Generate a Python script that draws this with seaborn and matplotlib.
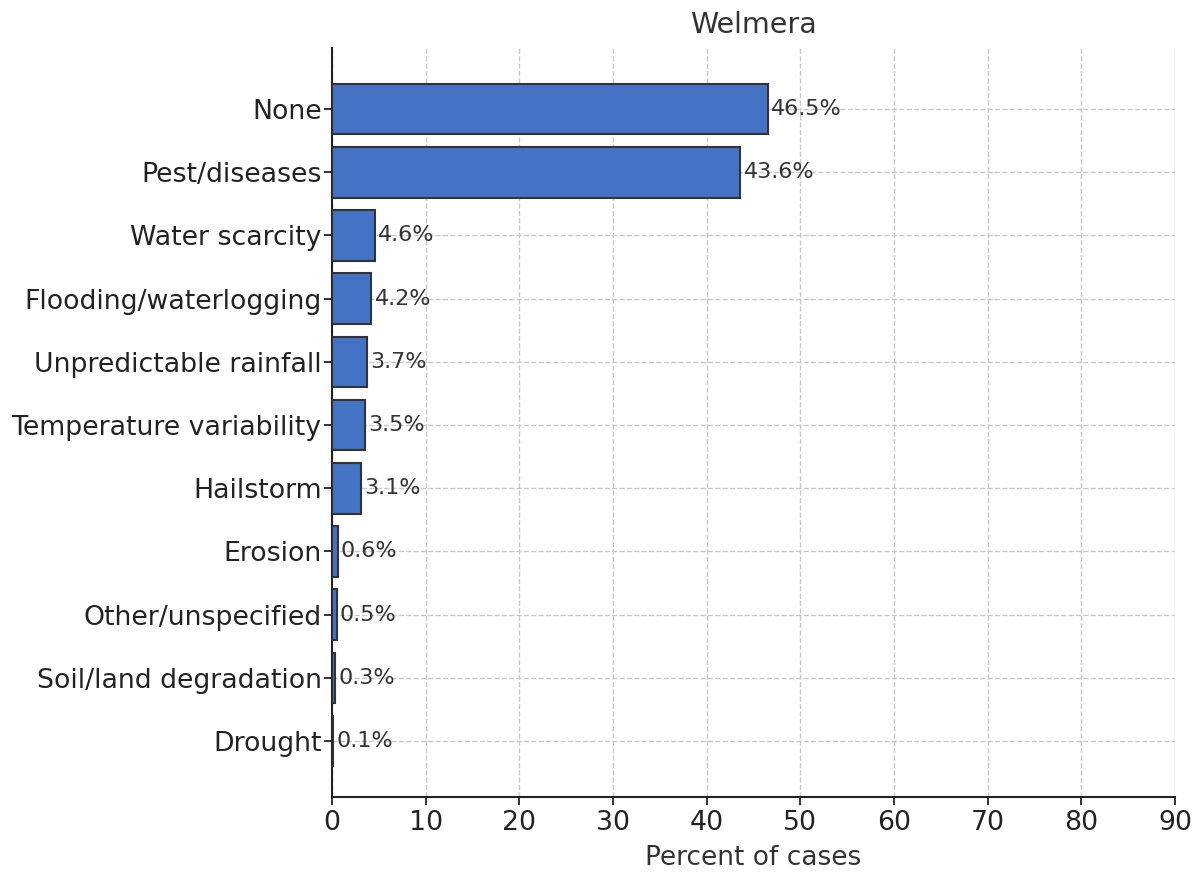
import matplotlib
matplotlib.use("Agg")
import matplotlib.pyplot as plt
import seaborn as sns

# data
categories = [
    "None", "Pest/diseases", "Water scarcity", "Flooding/waterlogging",
    "Unpredictable rainfall", "Temperature variability", "Hailstorm",
    "Erosion", "Other/unspecified", "Soil/land degradation", "Drought",
]
percents = [46.5, 43.6, 4.6, 4.2, 3.7, 3.5, 3.1, 0.6, 0.5, 0.3, 0.1]
x_ticks = [0, 10, 20, 30, 40, 50, 60, 70, 80, 90]


def main():
    sns.set_style("white")
    plt.rcParams["font.family"] = ["DejaVu Sans"]
    text_color = "#333333"

    fig = plt.figure(figsize=(11.96, 8.74), dpi=100)
    ax = fig.add_axes([0.2776, 0.088, 0.7048, 0.857])

    sns.barplot(x=percents, y=categories, orient="h", color="#4472C4",
                saturation=1, edgecolor="#333333", linewidth=1.5,
                width=0.8, ax=ax, zorder=3)

    for i, v in enumerate(percents):
        ax.text(v + 0.35, i, f"{v:.1f}%", va="center", ha="left",
                fontsize=16, color=text_color, zorder=4)

    ax.set_xlim(0, 90)
    ax.set_xticks(x_ticks)
    ax.set_ylim(10.886, -0.965)
    ax.grid(True, linestyle="--", color="#c8c8c8", linewidth=1, zorder=0)
    ax.set_axisbelow(True)

    for side in ["top", "right"]:
        ax.spines[side].set_visible(False)
    for side in ["left", "bottom"]:
        ax.spines[side].set_color("#222222")
        ax.spines[side].set_linewidth(1.5)

    ax.tick_params(axis="both", labelsize=19.3, colors="#222222",
                   length=6, width=1.3, left=True, bottom=True)
    ax.tick_params(axis="y", pad=1.5)
    ax.tick_params(axis="x", pad=3)
    ax.set_xlabel("Percent of cases", fontsize=19, color=text_color,
                  labelpad=7)
    ax.set_ylabel("")
    ax.set_title("Welmera", fontsize=20.5, color=text_color, pad=11)

    fig.savefig("out.png", dpi=100)


if __name__ == "__main__":
    main()
